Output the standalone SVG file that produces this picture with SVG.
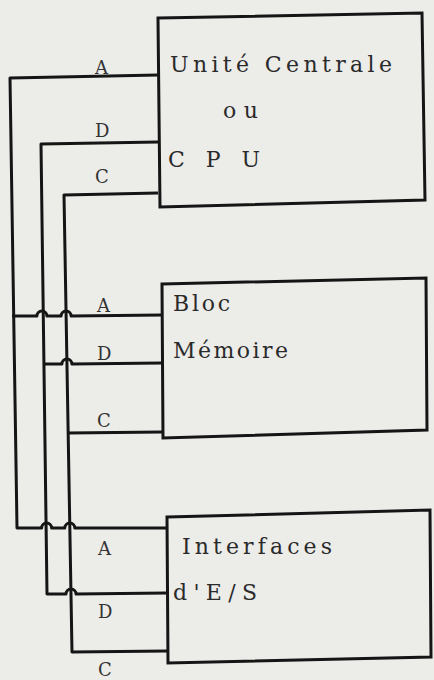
<svg xmlns="http://www.w3.org/2000/svg" width="434" height="680" viewBox="0 0 434 680">
  <style>
    .bg { fill: #ecece9; }
    .box { fill: none; stroke: #151515; stroke-width: 3; stroke-linejoin: miter; }
    .wire { fill: none; stroke: #151515; stroke-width: 3; stroke-linejoin: round; }
    .t { font-family: "DejaVu Serif", "Liberation Serif", serif; font-size: 22px; fill: #2a2a2a; }
    .lbl { font-family: "DejaVu Serif", "Liberation Serif", serif; font-size: 18px; fill: #333; }
  </style>
  <rect class="bg" x="0" y="0" width="434" height="680"/>

  <g id="connectors">
    <!-- Bus A -->
    <path class="wire" d="M158,75 L10,78 L17,528 L41.6,528 A5,5 0 0 1 51.6,528 L64.8,528 A5,5 0 0 1 74.8,528 L167,528"/>
    <path class="wire" d="M12,316 L36.9,316 A5,5 0 0 1 46.9,316 L61.1,316 A5,5 0 0 1 71.1,316 L162,315"/>
    <!-- Bus D -->
    <path class="wire" d="M158,142 L41,144 L47,594 L66,594 A5,5 0 0 1 76,594 L167,593"/>
    <path class="wire" d="M44,364 L61.9,364 A5,5 0 0 1 71.9,364 L162,363"/>
    <!-- Bus C -->
    <path class="wire" d="M158,193 L64,195 L72,652 L167,651"/>
    <path class="wire" d="M68,433 L162,432"/>
    <!-- labels -->
    <g id="bus-labels">
      <text class="lbl" x="95" y="74">A</text>
      <text class="lbl" x="95" y="137">D</text>
      <text class="lbl" x="95" y="183">C</text>
      <text class="lbl" x="97" y="312">A</text>
      <text class="lbl" x="97" y="360">D</text>
      <text class="lbl" x="97" y="427">C</text>
      <text class="lbl" x="98" y="555">A</text>
      <text class="lbl" x="98" y="618">D</text>
      <text class="lbl" x="98" y="676">C</text>
    </g>
  </g>

  <g id="cpu">
    <polygon class="box" points="158,18 422,13 425,200 160,207"/>
    <text class="t" x="170" y="72" textLength="222" lengthAdjust="spacing">Unité Centrale</text>
    <text class="t" x="223" y="118" textLength="35" lengthAdjust="spacing">ou</text>
    <text class="t" x="168" y="167" textLength="92" lengthAdjust="spacing">C P U</text>
  </g>

  <g id="memoire">
    <polygon class="box" points="162,284 426,278 427,430 163,438"/>
    <text class="t" x="173" y="311" textLength="57" lengthAdjust="spacing">Bloc</text>
    <text class="t" x="173" y="358" textLength="115" lengthAdjust="spacing">Mémoire</text>
  </g>

  <g id="interfaces">
    <polygon class="box" points="167,517 430,510 431,657 168,663"/>
    <text class="t" x="182" y="554" textLength="150" lengthAdjust="spacing">Interfaces</text>
    <text class="t" x="173" y="600" textLength="84" lengthAdjust="spacing">d'E/S</text>
  </g>
</svg>
